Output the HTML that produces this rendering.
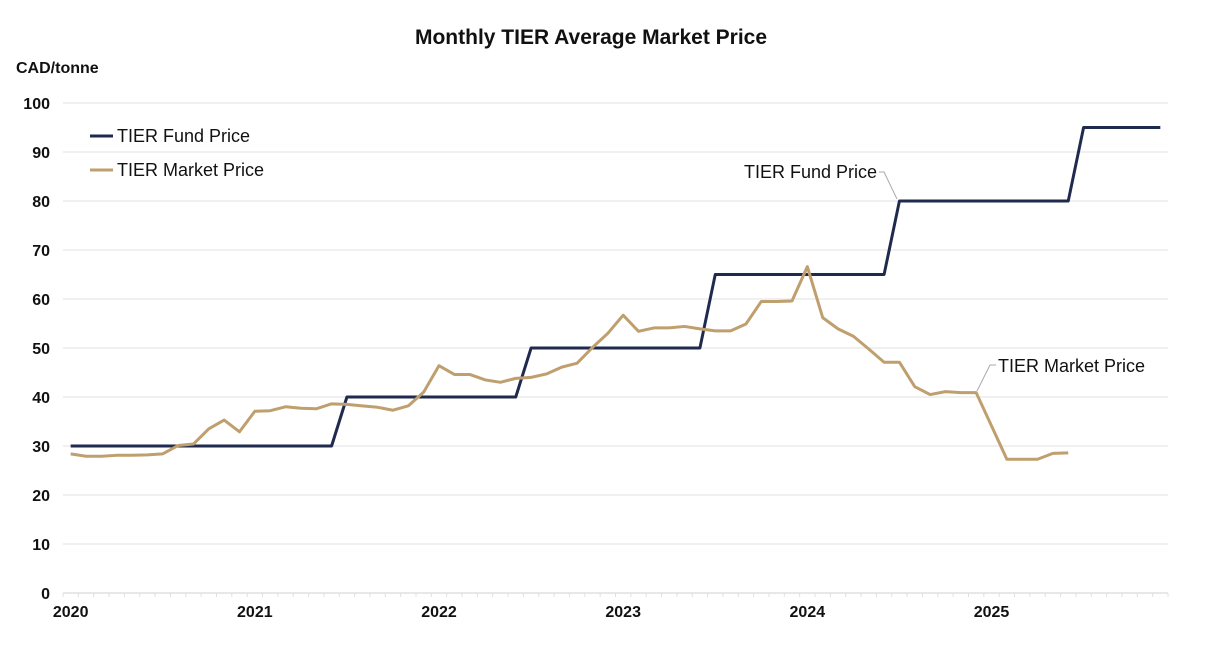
<!DOCTYPE html>
<html><head><meta charset="utf-8"><style>
body{margin:0;background:#fff;font-family:"Liberation Sans",sans-serif;}
svg text{font-family:"Liberation Sans",sans-serif;}
</style></head><body>
<svg id="chart" width="1205" height="641" xmlns="http://www.w3.org/2000/svg">
<text x="591" y="44" text-anchor="middle" font-size="21" font-weight="bold" fill="#111">Monthly TIER Average Market Price</text>
<text x="16" y="73" font-size="16" font-weight="bold" fill="#111">CAD/tonne</text>
<g id="grid"></g><g id="yt"></g><g id="xt"></g><g id="series"></g>
<g>
<line x1="90" y1="136" x2="113" y2="136" stroke="#1f2a4e" stroke-width="3"/>
<text x="117" y="142" font-size="18" fill="#111">TIER Fund Price</text>
<line x1="90" y1="170" x2="113" y2="170" stroke="#bf9f6e" stroke-width="3"/>
<text x="117" y="176" font-size="18" fill="#111">TIER Market Price</text>
</g>
<text x="744" y="178" font-size="18" fill="#111">TIER Fund Price</text>
<polyline points="879,172 884,172 897,199" fill="none" stroke="#aaa" stroke-width="1"/>
<text x="998" y="372" font-size="18" fill="#111">TIER Market Price</text>
<polyline points="996,365 990,365 977,391" fill="none" stroke="#aaa" stroke-width="1"/>
</svg>
<script>
const years=["2020","2021","2022","2023","2024","2025"];
const yTicks=[0,10,20,30,40,50,60,70,80,90,100];
const fundPrice=[30,30,30,30,30,30,30,30,30,30,30,30,30,30,30,30,30,30,
40,40,40,40,40,40,40,40,40,40,40,40,
50,50,50,50,50,50,50,50,50,50,50,50,
65,65,65,65,65,65,65,65,65,65,65,65,
80,80,80,80,80,80,80,80,80,80,80,80,
95,95,95,95,95,95];
const marketPrice=[28.4,27.9,27.9,28.1,28.1,28.2,28.4,30.1,30.4,33.5,35.3,32.9,
37.1,37.2,38.0,37.7,37.6,38.6,38.5,38.2,37.9,37.3,38.2,41.0,
46.4,44.6,44.6,43.5,43.0,43.8,44.0,44.7,46.1,46.9,50.1,53.0,
56.7,53.4,54.1,54.1,54.4,53.9,53.5,53.5,54.9,59.5,59.5,59.6,
66.6,56.2,53.9,52.4,49.8,47.1,47.1,42.1,40.5,41.1,40.9,40.9,
34.1,27.3,27.3,27.3,28.5,28.6];
const NS="http://www.w3.org/2000/svg";
const x0=63,x1=1168,nMonths=72,mw=(x1-x0)/nMonths;
const X=i=>x0+mw*(i+0.5);
const Y=v=>593-v*4.9;
function mk(tag,attrs,parent){const e=document.createElementNS(NS,tag);for(const k in attrs)e.setAttribute(k,attrs[k]);document.getElementById(parent).appendChild(e);return e;}
yTicks.forEach(v=>{
const g=mk('line',{x1:x0,x2:x1,y1:Y(v),y2:Y(v),stroke:v===0?'#d0d0d0':'#e0e0e0','stroke-width':1},'grid');


const t=mk('text',{x:50,y:Y(v)+6,'text-anchor':'end','font-size':16,'font-weight':'bold',fill:'#111'},'yt');
t.textContent=v;


});
for(let i=0;i<=nMonths;i++){
const tk=mk('line',{x1:x0+mw*i,x2:x0+mw*i,y1:593,y2:597,stroke:'#e0e0e0'},'xt');


}
years.forEach((yr,k)=>{
const t=mk('text',{x:X(k*12),y:617,'text-anchor':'middle','font-size':16,'font-weight':'bold',fill:'#111'},'xt');
t.textContent=yr;


});
const fp=mk('polyline',{points:fundPrice.map((v,i)=>X(i)+','+Y(v)).join(' '),fill:'none',stroke:'#1f2a4e','stroke-width':3,'stroke-linejoin':'round'},'series');


const mp=mk('polyline',{points:marketPrice.map((v,i)=>X(i)+','+Y(v)).join(' '),fill:'none',stroke:'#bf9f6e','stroke-width':3,'stroke-linejoin':'round'},'series');


</script>
</body></html>
